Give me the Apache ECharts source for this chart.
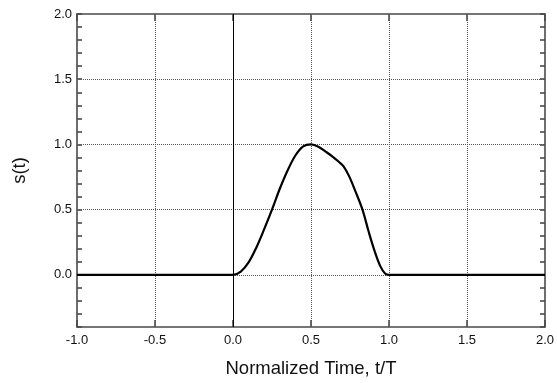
<!DOCTYPE html>
<html>
<head>
<meta charset="utf-8">
<script src="https://cdn.jsdelivr.net/npm/echarts@6/dist/echarts.min.js"></script>
<style>html,body{margin:0;padding:0;background:#fff}#c{width:557px;height:383px}</style>
</head>
<body>
<div id="c"></div>
<script>
// Data
var tValues = [-1, 0, 0.05, 0.1, 0.15, 0.2, 0.25, 0.3, 0.35, 0.4, 0.45, 0.5,
               0.55, 0.6, 0.64, 0.68, 0.71, 0.745, 0.785, 0.83, 0.87, 0.91, 0.945, 0.975, 1.0, 2];
var sValues = [0, 0, 0.025, 0.095, 0.21, 0.35, 0.5, 0.66, 0.8, 0.915, 0.985, 1.0,
               0.98, 0.94, 0.905, 0.865, 0.83, 0.755, 0.64, 0.5, 0.33, 0.175, 0.065, 0.01, 0, 0];
var xTicks = [-1.0, -0.5, 0.0, 0.5, 1.0, 1.5, 2.0];
var yGridValues = [0.0, 0.5, 1.0, 1.5];
var xGridValues = [-0.5, 0.5, 1.0, 1.5];
var xTitle = 'Normalized Time, t/T';
var yTitle = 's(t)';

var FONT = 'Liberation Sans, Arial, sans-serif';
var frameColor = '#4a4a4a';
var gridStyle = {color: '#555', type: [1, 1], width: 1};

var data = tValues.map(function (t, i) { return [t, sValues[i]]; });

var chart = echarts.init(document.getElementById('c'), null, {renderer: 'canvas'});
chart.setOption({
  animation: false,
  backgroundColor: '#fff',
  grid: {left: 77, right: 10, top: 14, bottom: 56},
  xAxis: [{
    type: 'value', min: -1, max: 2, interval: 0.5, position: 'bottom',
    axisLine: {show: true, onZero: false, lineStyle: {color: frameColor, width: 1.6}},
    axisTick: {show: true, inside: true, length: 7, lineStyle: {color: frameColor, width: 1.6}},
    axisLabel: {color: '#111', fontFamily: FONT, fontSize: 13, margin: 7,
      formatter: function (v) { return v.toFixed(1); }},
    splitLine: {show: false},
    name: xTitle, nameLocation: 'middle', nameGap: 32,
    nameTextStyle: {color: '#111', fontFamily: FONT, fontSize: 18.5}
  }, {
    type: 'value', min: -1, max: 2, interval: 0.5, position: 'top',
    axisLine: {show: true, onZero: false, lineStyle: {color: frameColor, width: 1.6}},
    axisTick: {show: true, inside: true, length: 7, lineStyle: {color: frameColor, width: 1.6}},
    axisLabel: {show: false}, splitLine: {show: false}
  }],
  yAxis: [{
    type: 'value', min: -0.4, max: 2, interval: 0.1, position: 'left',
    axisLine: {show: true, onZero: false, lineStyle: {color: frameColor, width: 1.6}},
    axisTick: {show: true, inside: true, length: 5, lineStyle: {color: frameColor, width: 1.6}},
    axisLabel: {color: '#111', fontFamily: FONT, fontSize: 13, margin: 5,
      formatter: function (v) {
        var r = Math.round(v * 10);
        return (r % 5 === 0 && r >= 0) ? (r / 10).toFixed(1) : '';
      }},
    splitLine: {show: false},
    name: yTitle, nameLocation: 'middle', nameGap: 48,
    nameTextStyle: {color: '#111', fontFamily: FONT, fontSize: 18.5}
  }, {
    type: 'value', min: -0.4, max: 2, interval: 0.1, position: 'right',
    axisLine: {show: true, onZero: false, lineStyle: {color: frameColor, width: 1.6}},
    axisTick: {show: true, inside: true, length: 5, lineStyle: {color: frameColor, width: 1.6}},
    axisLabel: {show: false}, splitLine: {show: false}
  }],
  series: [{
    type: 'line', xAxisIndex: 0, yAxisIndex: 0,
    data: [], silent: true,
    markLine: {
      silent: true, symbol: 'none', label: {show: false},
      lineStyle: gridStyle,
      data: yGridValues.map(function (v) { return {yAxis: v}; })
        .concat(xGridValues.map(function (v) { return {xAxis: v}; }))
    }
  }, {
    type: 'line', xAxisIndex: 0, yAxisIndex: 0,
    data: [], silent: true,
    markLine: {
      silent: true, symbol: 'none', label: {show: false},
      lineStyle: {color: '#000', type: 'solid', width: 1},
      data: [{xAxis: 0}]
    }
  }, {
    type: 'line', xAxisIndex: 0, yAxisIndex: 0,
    data: data, showSymbol: false, smooth: 0.35,
    lineStyle: {color: '#000', width: 2.2},
    z: 5
  }]
});
</script>
</body>
</html>
